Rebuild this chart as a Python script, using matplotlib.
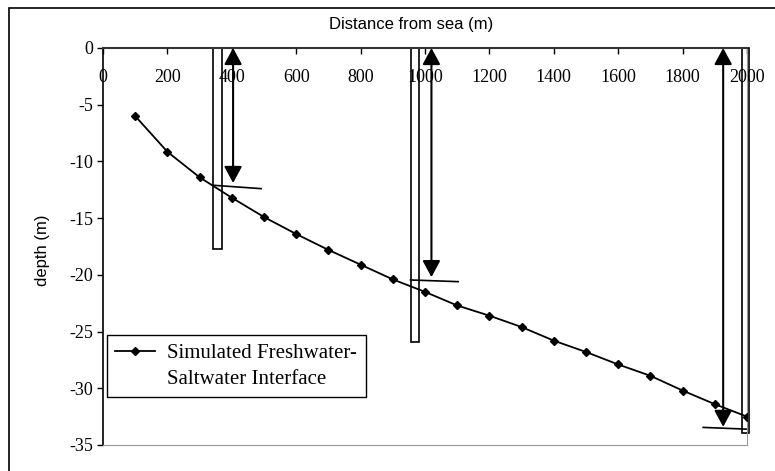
import matplotlib.pyplot as plt
from matplotlib.lines import Line2D
from matplotlib.patches import Rectangle

plt.rcParams['axes.unicode_minus'] = False

# interface simulated (distance from sea, depth)
distance = [100, 200, 300, 400, 500, 600, 700, 800, 900, 1000,
            1100, 1200, 1300, 1400, 1500, 1600, 1700, 1800, 1900, 2000]
depth = [-6.0, -9.15, -11.4, -13.2, -14.9, -16.4, -17.8, -19.1, -20.4, -21.5,
         -22.7, -23.6, -24.6, -25.8, -26.8, -27.9, -28.9, -30.2, -31.4, -32.5]

# wells: left edge, right edge, bottom depth
well_left = [342, 955, 1986]
well_right = [370, 982, 2007]
well_bottom = [-17.7, -25.9, -33.9]

# observed interface arrows and marks
arrow_x = [404, 1020, 1926]
arrow_depth = [-11.9, -20.2, -33.4]
mark_x0 = [342, 955, 1864]
mark_x1 = [491, 1103, 1999]
mark_y0 = [-12.1, -20.45, -33.45]
mark_y1 = [-12.4, -20.6, -33.6]

xticks = [0, 200, 400, 600, 800, 1000, 1200, 1400, 1600, 1800, 2000]
yticks = [0, -5, -10, -15, -20, -25, -30, -35]

serif = 'Liberation Serif'
sans = 'Liberation Sans'

fig = plt.figure(figsize=(7.75, 4.71), dpi=100)
ax = fig.add_axes([103/775, 1 - 445/471, 644/775, 397/471])

# outer frame of the chart
fig.patches.append(Rectangle((9/775, -0.1), 1.2, 1 - 8/471 + 0.1, transform=fig.transFigure,
                             fill=False, edgecolor='black', linewidth=1.2))

line, = ax.plot(distance, depth, color='black', linewidth=1.3, marker='D', markersize=4.5,
                zorder=3)

for l, r, b in zip(well_left, well_right, well_bottom):
    ax.add_patch(Rectangle((l, b), r - l, -b, fill=False, edgecolor='black', linewidth=1.2,
                           clip_on=False, zorder=2))

for x, d in zip(arrow_x, arrow_depth):
    ax.annotate('', xy=(x, d), xytext=(x, 0),
                arrowprops=dict(arrowstyle='<|-|>,head_length=0.5,head_width=0.27',
                                mutation_scale=20, color='black', linewidth=1.5,
                                shrinkA=0, shrinkB=0), zorder=4)

for x0, x1, y0, y1 in zip(mark_x0, mark_x1, mark_y0, mark_y1):
    ax.plot([x0, x1], [y0, y1], color='black', linewidth=1.2, clip_on=False)

ax.set_xlim(0, 2000)
ax.set_ylim(-35, 0)
ax.set_xticks(xticks)
ax.set_xticklabels([str(t) for t in xticks], fontfamily=serif, fontsize=13)
ax.set_yticks(yticks)
ax.set_yticklabels([str(t) for t in yticks], fontfamily=serif, fontsize=13)
ax.tick_params(axis='x', top=True, bottom=False, labeltop=True, labelbottom=False,
               direction='in', length=4, pad=-27, width=1)
ax.tick_params(axis='y', direction='out', length=4, pad=3, width=1)

ax.spines['top'].set_color('#333333')
ax.spines['top'].set_linewidth(1.5)
ax.spines['left'].set_color('black')
ax.spines['left'].set_linewidth(1.2)
ax.spines['bottom'].set_color('#999999')
ax.spines['right'].set_color('#999999')

fig.text(411/775, 1 - 25/471, 'Distance from sea (m)', family=sans, fontsize=12,
         ha='center', va='center')
fig.text(42/775, 1 - 250/471, 'depth (m)', family=sans, fontsize=12,
         ha='center', va='center', rotation=90)

blank = Line2D([], [], color='none')
leg = ax.legend([line, blank], ['Simulated Freshwater-', 'Saltwater Interface'],
                loc='upper left', bbox_to_anchor=(4/644, 1 - 287/397),
                prop={'family': serif, 'size': 15}, frameon=True, fancybox=False,
                edgecolor='black', framealpha=1, borderpad=0.4, labelspacing=0.3,
                handlelength=1.9, handletextpad=0.6, borderaxespad=0)
leg.get_frame().set_linewidth(1.0)

fig.savefig('out.png', dpi=100)
